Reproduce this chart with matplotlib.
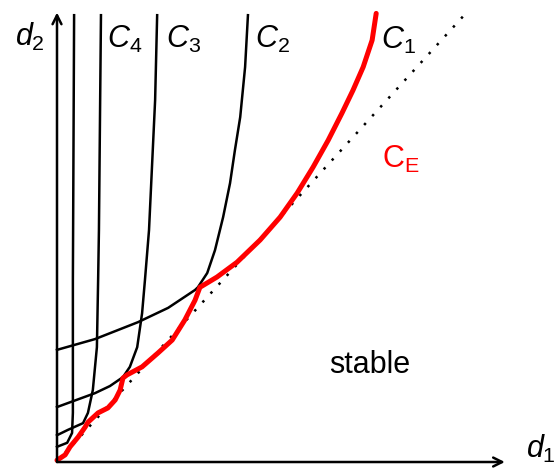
import numpy as np
import matplotlib
matplotlib.use('Agg')
import matplotlib.pyplot as plt

# fonts: sans serif, italic math letters
plt.rcParams['font.family'] = ['Liberation Sans', 'DejaVu Sans']
plt.rcParams['mathtext.fontset'] = 'custom'
plt.rcParams['mathtext.rm'] = 'Liberation Sans'
plt.rcParams['mathtext.it'] = 'Liberation Sans:italic'

# curves, (d1, d2) in units where the dotted line is d2 = d1
a_d1 = [0, 0.25, 0.37, 0.39, 0.39, 0.42]
a_d2 = [0.34, 0.43, 0.65, 1.10, 4.07, 10.0]

c4_d1 = [0, 0.27, 0.64, 0.76, 0.88, 0.98, 1.01, 1.03, 1.06, 1.08]
c4_d2 = [0.60, 0.72, 0.87, 1.10, 1.61, 2.57, 4.07, 5.19, 8.10, 10.0]

c3_d1 = [0, 0.93, 1.30, 1.62, 1.79, 1.97, 2.09, 2.16, 2.26, 2.41, 2.46]
c3_d2 = [1.23, 1.54, 1.70, 1.90, 2.13, 2.57, 3.33, 4.07, 5.19, 8.10, 10.0]

c2_d1 = [0, 0.93, 1.99, 2.73, 3.39, 3.46, 3.69, 3.88, 4.08, 4.25, 4.37, 4.50, 4.62, 4.69]
c2_d2 = [2.51, 2.75, 3.13, 3.45, 3.85, 3.91, 4.23, 4.74, 5.48, 6.24, 6.98, 7.72, 8.84, 10.0]

ce_d1 = [0, 0.20, 0.32, 0.52, 0.69, 0.76, 1.01, 1.25, 1.43, 1.55, 1.62, 1.72,
         2.09, 2.48, 2.83, 3.14, 3.39, 3.51, 3.93, 4.42, 4.99, 5.48, 5.90, 6.29,
         6.66, 7.00, 7.27, 7.52, 7.74, 7.84]
ce_d2 = [0.04, 0.16, 0.34, 0.56, 0.78, 0.89, 1.10, 1.21, 1.39, 1.61, 1.88, 1.95,
         2.13, 2.44, 2.73, 3.18, 3.62, 3.91, 4.14, 4.47, 4.97, 5.48, 6.02, 6.60,
         7.20, 7.81, 8.32, 8.84, 9.44, 10.04]

diag_d1 = [0, 10]
diag_d2 = [0, 10]

fig = plt.figure(figsize=(5.59, 4.68), dpi=100)
ax = fig.add_axes([0, 0, 1, 1])
ax.set_xlim(-1.40, 12.33)
ax.set_ylim(-0.134, 10.34)
ax.axis('off')

# axes with arrows
ax.annotate('', xy=(11.0, 0), xytext=(0, 0),
            arrowprops=dict(arrowstyle='->', lw=1.8, color='k', mutation_scale=16,
                            shrinkA=0, shrinkB=0))
ax.annotate('', xy=(0, 10.06), xytext=(0, 0),
            arrowprops=dict(arrowstyle='->', lw=1.8, color='k', mutation_scale=16,
                            shrinkA=0, shrinkB=0))

ax.plot(diag_d1, diag_d2, color='k', lw=1.8, ls=(0, (1, 3.8)))

for xs, ys in [(a_d1, a_d2), (c4_d1, c4_d2), (c3_d1, c3_d2), (c2_d1, c2_d2)]:
    ax.plot(xs, ys, color='k', lw=1.8, solid_joinstyle='round')

ax.plot(ce_d1, ce_d2, color='red', lw=3.6, solid_joinstyle='round', solid_capstyle='round')

fs = 22
ax.text(-0.66, 9.51, r'$d_2$', fontsize=fs, ha='center', va='center')
ax.text(11.89, 0.30, r'$d_1$', fontsize=fs, ha='center', va='center')
ax.text(1.67, 9.46, r'$C_4$', fontsize=fs, ha='center', va='center')
ax.text(3.10, 9.46, r'$C_3$', fontsize=fs, ha='center', va='center')
ax.text(5.28, 9.46, r'$C_2$', fontsize=fs, ha='center', va='center')
ax.text(8.38, 9.44, r'$C_1$', fontsize=fs, ha='center', va='center')
ax.text(8.45, 6.78, r'$\mathrm{C}_\mathrm{E}$', fontsize=fs, ha='center', va='center', color='red')
ax.text(7.67, 2.17, 'stable', fontsize=fs, ha='center', va='center')

fig.savefig('out.png', dpi=100)
